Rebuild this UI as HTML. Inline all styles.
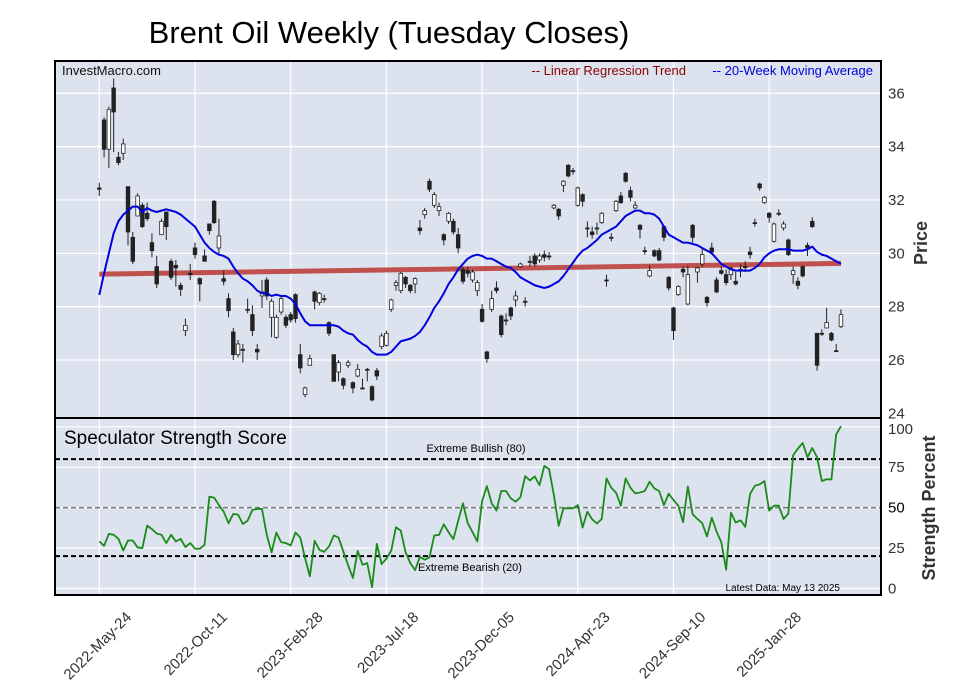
<!DOCTYPE html>
<html><head><meta charset="utf-8"><style>
html,body{margin:0;padding:0;background:#fff;}
svg{display:block;font-family:"Liberation Sans",Arial,sans-serif;}
</style></head><body>
<svg id="chart" width="957" height="694" viewBox="0 0 957 694" xmlns="http://www.w3.org/2000/svg">
<text x="389" y="43" font-size="31" text-anchor="middle" fill="#000">Brent Oil Weekly (Tuesday Closes)</text>
<rect x="55" y="61" width="826" height="357" fill="#dde3ee"/>
<rect x="55" y="418" width="826" height="177" fill="#dde3ee"/>
<g id="grid"></g>
<g id="marks"></g>
<rect x="55" y="61" width="826" height="357" fill="none" stroke="#000" stroke-width="2"/>
<rect x="55" y="418" width="826" height="177" fill="none" stroke="#000" stroke-width="2"/>
<text x="62" y="75" font-size="13" fill="#111">InvestMacro.com</text>
<text x="686" y="75" font-size="13" fill="#8b0000" text-anchor="end">-- Linear Regression Trend</text>
<text x="873" y="75" font-size="13" fill="#0000dd" text-anchor="end">-- 20-Week Moving Average</text>
<text x="64" y="444" font-size="19" fill="#000">Speculator Strength Score</text>
<text x="476" y="452" font-size="11" fill="#000" text-anchor="middle">Extreme Bullish (80)</text>
<text x="470" y="571" font-size="11" fill="#000" text-anchor="middle">Extreme Bearish (20)</text>
<text x="840" y="591" font-size="10" fill="#000" text-anchor="end">Latest Data: May 13 2025</text>
<text transform="translate(927,243) rotate(-90)" font-size="18" font-weight="bold" fill="#333" text-anchor="middle">Price</text>
<text transform="translate(935,508) rotate(-90)" font-size="18" font-weight="bold" fill="#333" text-anchor="middle">Strength Percent</text>
<g id="labels"></g>
</svg>
<script>
const xTickLabels=["2022-May-24","2022-Oct-11","2023-Feb-28","2023-Jul-18","2023-Dec-05","2024-Apr-23","2024-Sep-10","2025-Jan-28"];
const xTickWeeks=[0,20,40,60,80,100,120,140];
const priceTicks=[24,26,28,30,32,34,36];
const strengthTicks=[0,25,50,75,100];
const openP=[32.45,35.0,33.9,36.2,33.6,33.75,32.5,30.6,31.4,31.8,31.5,30.4,29.5,30.7,31.55,29.7,29.55,28.8,27.1,29.25,30.2,29.05,29.9,31.1,31.95,30.2,29.05,28.3,27.05,26.2,26.4,27.9,27.7,26.4,28.4,29.0,27.6,26.85,27.8,27.6,27.7,28.45,26.2,24.7,25.8,28.55,28.15,28.3,27.4,26.2,25.55,25.3,25.8,25.15,25.4,24.95,25.65,25.0,25.6,26.5,26.55,27.9,28.8,28.6,29.1,28.8,28.85,30.95,31.45,32.7,31.8,31.6,30.7,31.2,31.2,30.7,29.4,29.35,29.0,28.6,27.9,26.3,27.9,28.7,27.65,27.5,27.95,28.25,29.5,28.2,29.7,29.9,29.75,29.95,29.9,31.7,31.65,32.55,33.3,33.1,31.8,32.2,30.95,30.8,30.95,31.15,29.0,30.6,31.6,32.15,33.0,32.35,31.7,31.05,30.1,29.15,30.1,30.1,31.0,29.1,27.95,28.45,29.4,28.1,31.05,29.3,29.6,28.35,30.2,29.0,29.35,29.2,29.2,28.95,29.4,29.5,30.05,31.15,32.6,31.9,31.5,30.45,31.5,30.95,30.5,29.2,28.95,29.5,30.3,31.2,27.0,27.0,27.2,27.0,26.35,27.25];
const closeP=[32.4,33.9,35.4,35.3,33.4,34.1,30.8,29.7,32.15,31.0,31.3,30.1,28.85,31.2,31.0,29.1,29.45,28.65,27.3,29.2,29.95,28.85,29.7,30.85,31.15,30.65,28.95,27.85,26.2,26.6,26.4,27.9,27.1,26.3,28.55,28.4,28.2,27.6,28.3,27.3,27.5,27.55,25.7,24.95,26.05,28.2,28.5,28.3,27.0,25.2,25.9,25.05,25.9,24.95,25.65,24.95,25.65,24.5,25.4,26.9,27.0,28.25,28.9,29.25,28.85,28.6,29.05,30.85,31.6,32.4,32.2,31.75,30.5,31.5,30.8,30.2,28.95,29.25,29.3,28.9,27.45,26.05,28.3,28.6,26.95,27.5,27.65,28.4,29.6,28.2,29.7,29.6,29.9,29.85,29.9,31.8,31.4,32.7,32.9,33.1,32.45,31.95,30.95,30.7,30.95,31.5,29.0,30.6,31.95,31.9,32.7,32.1,31.8,30.9,30.1,29.35,29.9,29.75,30.6,28.7,27.1,28.75,29.3,29.2,30.6,29.45,29.95,28.15,30.05,28.55,29.25,28.9,29.45,28.85,29.4,29.5,29.95,31.15,32.45,32.1,31.35,31.1,31.5,31.1,29.95,29.35,28.8,29.15,30.2,31.0,25.8,27.0,27.4,26.75,26.35,27.7];
const highP=[32.65,35.1,35.5,36.55,33.8,34.3,32.5,30.8,32.25,31.9,31.9,30.75,29.9,31.3,31.55,29.8,29.75,28.9,27.55,29.6,30.4,29.1,30.15,31.1,32.0,31.3,29.35,28.5,27.2,26.75,26.6,28.3,28.05,26.6,29.0,29.1,28.3,27.7,28.4,27.7,27.8,28.5,26.6,25.0,26.2,28.6,28.55,28.45,27.45,26.2,26.0,25.35,26.0,25.2,25.85,25.3,25.7,25.05,25.7,27.0,27.1,28.3,29.0,29.3,29.15,28.85,29.1,31.25,31.7,32.8,32.3,31.9,30.75,31.55,31.3,30.95,29.5,29.5,29.4,29.0,28.1,26.35,28.6,28.95,27.7,27.75,28.0,28.6,29.65,28.35,29.9,30.0,30.0,30.1,30.05,31.85,31.7,32.75,33.35,33.2,32.5,32.25,31.2,31.0,31.15,31.55,29.2,30.75,32.0,32.3,33.05,32.5,31.95,31.1,30.25,29.55,30.15,30.2,31.05,29.15,28.0,28.8,29.5,29.55,31.1,29.5,30.2,28.4,30.4,29.1,29.5,29.4,29.5,29.3,29.6,29.7,30.25,31.3,32.65,32.15,31.55,31.15,31.65,31.2,30.55,29.5,29.1,29.55,30.4,31.35,27.0,27.15,27.95,27.05,26.6,27.9];
const lowP=[32.15,33.6,33.2,33.8,33.3,33.5,30.3,29.6,31.4,30.95,31.2,29.85,28.7,30.7,30.5,29.0,28.75,28.4,26.9,29.0,29.8,28.2,29.7,30.7,31.1,30.0,28.8,27.6,26.0,26.1,25.9,27.75,26.9,26.0,27.95,28.25,26.85,26.8,27.7,27.2,27.4,27.4,25.5,24.6,25.8,27.9,28.05,28.15,26.9,25.2,25.2,24.9,25.7,24.75,25.35,24.9,25.2,24.45,25.25,26.4,26.5,27.8,28.6,28.5,28.7,28.5,28.5,30.7,31.3,32.3,31.7,31.4,30.3,31.1,30.7,30.0,28.85,29.1,28.9,28.4,27.4,25.9,27.8,28.5,26.85,27.3,27.5,28.0,29.45,28.0,29.5,29.5,29.65,29.7,29.75,31.65,31.25,32.3,32.85,32.95,31.75,31.75,30.6,30.55,30.7,31.1,28.75,30.45,31.55,31.85,32.65,31.95,31.65,30.55,29.95,29.1,29.85,29.7,30.45,28.6,26.75,28.4,29.1,28.05,30.4,28.9,29.5,28.0,29.95,28.5,29.2,28.8,29.0,28.8,29.1,29.3,29.8,31.0,32.35,31.85,31.15,30.4,31.4,30.85,29.9,28.85,28.65,29.1,29.9,30.95,25.6,26.9,27.2,26.7,26.3,27.2];
const movingAvg=[28.44,29.25,30.0,30.75,31.2,31.45,31.6,31.75,31.75,31.55,31.7,31.6,31.55,31.6,31.65,31.6,31.55,31.45,31.3,31.15,31.0,30.7,30.4,30.2,30.05,29.95,29.9,29.8,29.5,29.25,29.05,28.95,28.8,28.6,28.5,28.5,28.4,28.45,28.4,28.4,28.3,28.1,27.75,27.45,27.3,27.3,27.3,27.3,27.3,27.3,27.25,27.1,27.0,26.95,26.75,26.6,26.5,26.3,26.2,26.2,26.2,26.3,26.5,26.7,26.75,26.8,26.9,27.05,27.3,27.6,27.95,28.2,28.5,28.85,29.1,29.4,29.6,29.8,29.9,29.95,29.9,29.8,29.8,29.7,29.6,29.5,29.45,29.3,29.1,29.0,28.9,28.8,28.75,28.7,28.75,28.85,28.95,29.15,29.4,29.65,29.9,30.1,30.2,30.35,30.5,30.7,30.8,30.9,31.0,31.2,31.4,31.5,31.6,31.6,31.5,31.5,31.45,31.3,31.0,30.7,30.6,30.5,30.4,30.4,30.35,30.3,30.2,30.1,30.0,29.8,29.6,29.5,29.4,29.35,29.35,29.35,29.35,29.45,29.6,29.85,30.0,30.1,30.15,30.15,30.15,30.1,30.1,30.1,30.15,30.25,30.05,29.95,29.9,29.8,29.7,29.6];
const trendEnds=[29.22,29.62];
const strength=[29.1,26.4,33.8,33.2,30.7,23.5,29.7,29.7,25.4,25.0,38.9,36.7,34.0,33.2,28.1,33.2,29.1,30.7,25.6,28.1,24.6,24.6,27.0,56.8,56.2,51.6,47.5,40.4,46.1,45.7,39.9,42.0,48.6,49.2,49.2,33.2,22.3,34.6,28.7,28.1,26.6,34.6,31.5,18.8,7.5,29.5,23.9,22.7,26.0,32.8,31.5,22.9,14.3,6.5,23.3,14.7,15.7,0.8,27.6,15.1,18.4,23.3,37.9,35.8,22.5,15.7,11.4,19.6,17.8,19.2,32.8,33.2,39.7,34.8,30.5,41.8,52.7,40.4,34.8,29.1,54.1,63.3,52.7,48.2,60.3,60.3,55.7,53.7,56.4,69.5,66.8,69.3,63.9,75.8,73.8,57.8,38.7,49.6,49.6,49.6,51.6,37.7,47.5,42.8,40.2,43.0,68.1,62.3,59.2,51.2,68.1,62.3,58.8,59.4,60.3,66.0,61.9,60.3,51.6,58.6,54.7,51.2,41.0,63.1,45.9,43.0,40.4,32.2,43.8,35.2,28.5,11.6,46.9,40.8,42.2,38.1,58.4,63.5,64.4,66.4,48.2,51.2,51.2,43.0,46.3,82.4,86.5,90.0,81.2,86.9,81.2,66.4,67.6,67.4,95.3,100.4];
const refLevels=[80,50,20];

const NS="http://www.w3.org/2000/svg";
function xW(w){return 99.3+4.785*w;}
function yP(p){return 253.3-(p-30)*26.67;}
function yS(v){return 588.5-v*1.617;}
function mk(tag,attrs,parent){const e=document.createElementNS(NS,tag);for(const k in attrs)e.setAttribute(k,attrs[k]);parent.appendChild(e);return e;}
const grid=document.getElementById('grid'),marks=document.getElementById('marks'),labels=document.getElementById('labels');

xTickWeeks.forEach((w,i)=>{
  const x=xW(w);
  const g1=mk('line',{x1:x,x2:x,y1:61,y2:418,stroke:'#fff','stroke-width':1.2},grid);
  
  
  const g2=mk('line',{x1:x,x2:x,y1:418,y2:595,stroke:'#fff','stroke-width':1.2},grid);
  
  
  const t=mk('text',{transform:`translate(${x+33},${618}) rotate(-45)`,'font-size':15,fill:'#333','text-anchor':'end'},labels);
  t.textContent=xTickLabels[i];
  
  
});
priceTicks.forEach(p=>{
  const y=yP(p);
  if(p>24){const g=mk('line',{x1:55,x2:881,y1:y,y2:y,stroke:'#fff','stroke-width':1.2},grid);
  
  }
  const t=mk('text',{x:888,y:y+5,'font-size':15,fill:'#333'},labels);
  t.textContent=p;
  
  
});
strengthTicks.forEach(v=>{
  const y=yS(v);
  const g=mk('line',{x1:55,x2:881,y1:y,y2:y,stroke:'#fff','stroke-width':1.2},grid);
  
  
  const t=mk('text',{x:888,y:y+(v===100?7:5),'font-size':15,fill:v===50?'#000':'#333'},labels);
  t.textContent=v;
  
  
});
refLevels.forEach(v=>{
  const y=yS(v);
  const l=mk('line',{x1:55,x2:881,y1:y,y2:y,stroke:v===50?'#777':'#000','stroke-width':v===50?1.5:2,'stroke-dasharray':'5,3'},marks);
  
  
});
const tr=mk('line',{x1:xW(0),x2:xW(closeP.length-1),y1:yP(trendEnds[0]),y2:yP(trendEnds[1]),stroke:'#c0504d','stroke-width':5},marks);


for(let i=0;i<closeP.length;i++){
  const x=xW(i),o=openP[i],c=closeP[i];
  const w=mk('line',{x1:x,x2:x,y1:yP(highP[i]),y2:yP(lowP[i]),stroke:'#222','stroke-width':1},marks);
  
  
  const top=yP(Math.max(o,c)),bot=yP(Math.min(o,c));
  const up=c>o;
  const r=mk('rect',{x:x-1.8,y:top,width:3.6,height:Math.max(bot-top,1),fill:up?'#fff':'#222',stroke:'#222','stroke-width':0.8},marks);
  
  
}
const ma=mk('polyline',{points:movingAvg.map((v,i)=>xW(i)+','+yP(v)).join(' '),fill:'none',stroke:'#0000e0','stroke-width':2},marks);


const sl=mk('polyline',{points:strength.map((v,i)=>xW(i)+','+yS(v)).join(' '),fill:'none',stroke:'#1a8a1a','stroke-width':1.8,'stroke-linejoin':'round'},marks);


</script>
</body></html>
